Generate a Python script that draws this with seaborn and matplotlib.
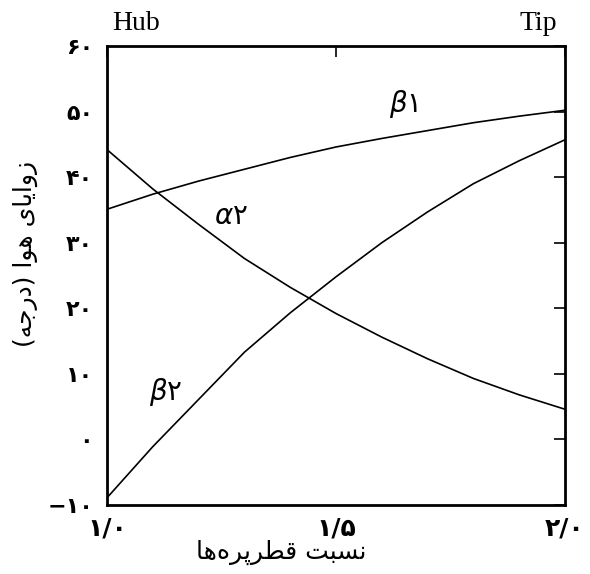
import numpy as np
import pandas as pd
import matplotlib
matplotlib.use('Agg')
import matplotlib.pyplot as plt
import seaborn as sns

# diameter ratio (hub -> tip)
ratio = [1.0, 1.1, 1.2, 1.3, 1.4, 1.5, 1.6, 1.7, 1.8, 1.9, 2.0]
# air angles in degrees
beta1 = [35.1, 37.4, 39.4, 41.2, 43.0, 44.6, 45.9, 47.1, 48.3, 49.3, 50.2]
alpha2 = [44.2, 38.2, 32.8, 27.6, 23.2, 19.2, 15.6, 12.3, 9.3, 6.8, 4.6]
beta2 = [-8.9, -1.1, 6.1, 13.3, 19.3, 24.8, 30.0, 34.7, 39.0, 42.5, 45.7]

x_ticks = [1.0, 1.5, 2.0]
x_ticklabels = ['۱/۰', '۱/۵', '۲/۰']
y_ticks = [-10, 0, 10, 20, 30, 40, 50, 60]
y_ticklabels = ['−۱۰', '۰', '۱۰', '۲۰', '۳۰', '۴۰', '۵۰', '۶۰']

# persian labels written in shaped (presentation) forms, visual order,
# because matplotlib does no arabic shaping itself
ylabel_txt = '(\uFEEA\uFE9F\uFEAD\uFEA9) \uFE8D\uFEEE\uFEEB \uFEEF\uFE8E\uFEF3\uFE8D\uFEED\uFEAF'
xlabel_txt = '\uFE8E\uFEEB\uFEE9\uFEAE\uFB58\uFEAE\uFEC4\uFED7 \uFE96\uFE92\uFEB4\uFEE7'

df = pd.DataFrame({
    'ratio': ratio * 3,
    'angle': beta1 + alpha2 + beta2,
    'curve': ['b1'] * len(ratio) + ['a2'] * len(ratio) + ['b2'] * len(ratio),
})

sns.set_theme(style='white')
plt.rcParams['font.family'] = ['DejaVu Sans']
plt.rcParams['mathtext.fontset'] = 'dejavusans'
plt.rcParams['text.color'] = 'black'
plt.rcParams['xtick.color'] = 'black'
plt.rcParams['ytick.color'] = 'black'

fig = plt.figure(figsize=(5.9, 5.74), dpi=100)
ax = fig.add_axes([107/590, 1 - 505/574, 458/590, 459/574])

sns.lineplot(data=df, x='ratio', y='angle', hue='curve',
             palette=['black', 'black', 'black'], linewidth=1.2,
             legend=False, ax=ax)

ax.set_xlim(1.0, 2.0)
ax.set_ylim(-10, 60)
ax.set_xticks(x_ticks)
ax.set_xticklabels(x_ticklabels, fontsize=18, fontweight='bold')
ax.set_yticks(y_ticks)
ax.set_yticklabels(y_ticklabels, fontsize=16, fontweight='bold')
ax.tick_params(direction='in', length=8, width=1.2,
               top=True, right=True, pad=10)
ax.tick_params(axis='x', pad=8)
for s in ax.spines.values():
    s.set_color('black')
    s.set_linewidth(2)

ax.set_xlabel('')
ax.set_ylabel('')
fig.text(281/590, 1 - 552/574, xlabel_txt, ha='center', va='center', fontsize=18)
fig.text(25/590, 1 - 254/574, ylabel_txt, ha='center', va='center',
         rotation=90, fontsize=18)

# curve names
ax.text(1.648, 51.2, r'$\beta$۱', fontsize=20, ha='center', va='center')
ax.text(1.27, 34.1, r'$\alpha$۲', fontsize=20, ha='center', va='center')
ax.text(1.129, 7.2, r'$\beta$۲', fontsize=20, ha='center', va='center')

# hub / tip markers above the frame
fig.text(136/590, 1 - 24/574, 'Hub', family='Liberation Serif', fontsize=20,
         ha='center', va='center')
fig.text(538/590, 1 - 23/574, 'Tip', family='Liberation Serif', fontsize=20,
         ha='center', va='center')

fig.savefig('out.png', dpi=100, facecolor='white')
